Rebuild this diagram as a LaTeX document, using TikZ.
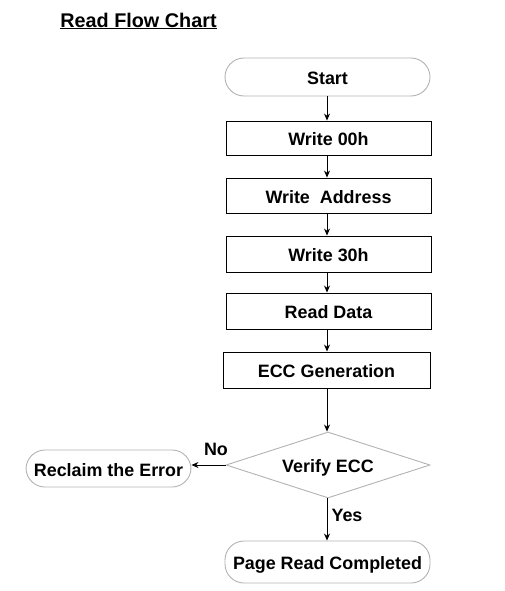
\documentclass[tikz,border=0pt]{standalone}
\usepackage{fontspec}
\setmainfont{Liberation Sans}
\usetikzlibrary{shapes.geometric,arrows.meta}
\begin{document}
\begin{tikzpicture}[x=1pt,y=-1pt,
  every node/.style={font=\fontsize{17.9}{20}\selectfont\bfseries},
  stepbox/.style={draw=black,line width=0.9pt,minimum height=35pt,inner sep=0pt,text height=15pt,text depth=0pt},
  termbox/.style={draw=gray!60,line width=0.9pt,rounded corners=19pt,inner sep=0pt,text height=15pt,text depth=0pt},
  decision/.style={draw=gray!60,line width=0.9pt,diamond,aspect=3.09,inner sep=0pt,minimum width=204pt,minimum height=66pt,text height=15pt,text depth=0pt},
  flow/.style={draw=black,line width=0.9pt,-{Stealth[length=7pt,width=6pt]}},
  lbl/.style={inner sep=0pt}]
\useasboundingbox (0,0) rectangle (504,591);
\node[lbl,font=\fontsize{19.8}{22}\selectfont\bfseries] (title) at (138.5,21) {\underline{Read Flow Chart}};
\node[termbox,minimum width=205pt,minimum height=38pt] (start) at (327.5,77) {Start};
\node[stepbox,minimum width=205pt,minimum height=34pt] (w00) at (328.5,138) {Write 00h};
\node[stepbox,minimum width=205pt] (wad) at (328.5,195.5) {Write\ \ Address};
\node[stepbox,minimum width=205pt,minimum height=36pt] (w30) at (328.5,254) {Write 30h};
\node[stepbox,minimum width=205pt,minimum height=36pt] (rd) at (328.5,311) {Read Data};
\node[stepbox,minimum width=207pt,minimum height=36pt] (ecc) at (326.5,370) {ECC Generation};
\node[decision] (ver) at (328,465) {Verify ECC};
\node[termbox,minimum width=165pt,minimum height=37pt] (rec) at (108.5,468.5) {Reclaim the Error};
\node[termbox,minimum width=205pt,minimum height=42pt] (done) at (327.5,562) {Page Read Completed};
\node[lbl] (no) at (216,449) {No};
\node[lbl] (yes) at (347,515) {Yes};
\draw[flow] (start.south -| 327,0) -- (w00.north -| 327,0);
\draw[flow] (w00.south -| 327,0) -- (wad.north -| 327,0);
\draw[flow] (wad.south -| 327,0) -- (w30.north -| 327,0);
\draw[flow] (w30.south -| 327,0) -- (rd.north -| 327,0);
\draw[flow] (rd.south -| 327,0) -- (ecc.north -| 327,0);
\draw[flow] (ecc.south -| 327,0) -- (ver.north -| 327,0);
\draw[flow] (ver.west) -- (rec.east |- ver.west);
\draw[flow] (ver.south -| 327,0) -- (done.north -| 327,0);
\end{tikzpicture}
\end{document}
